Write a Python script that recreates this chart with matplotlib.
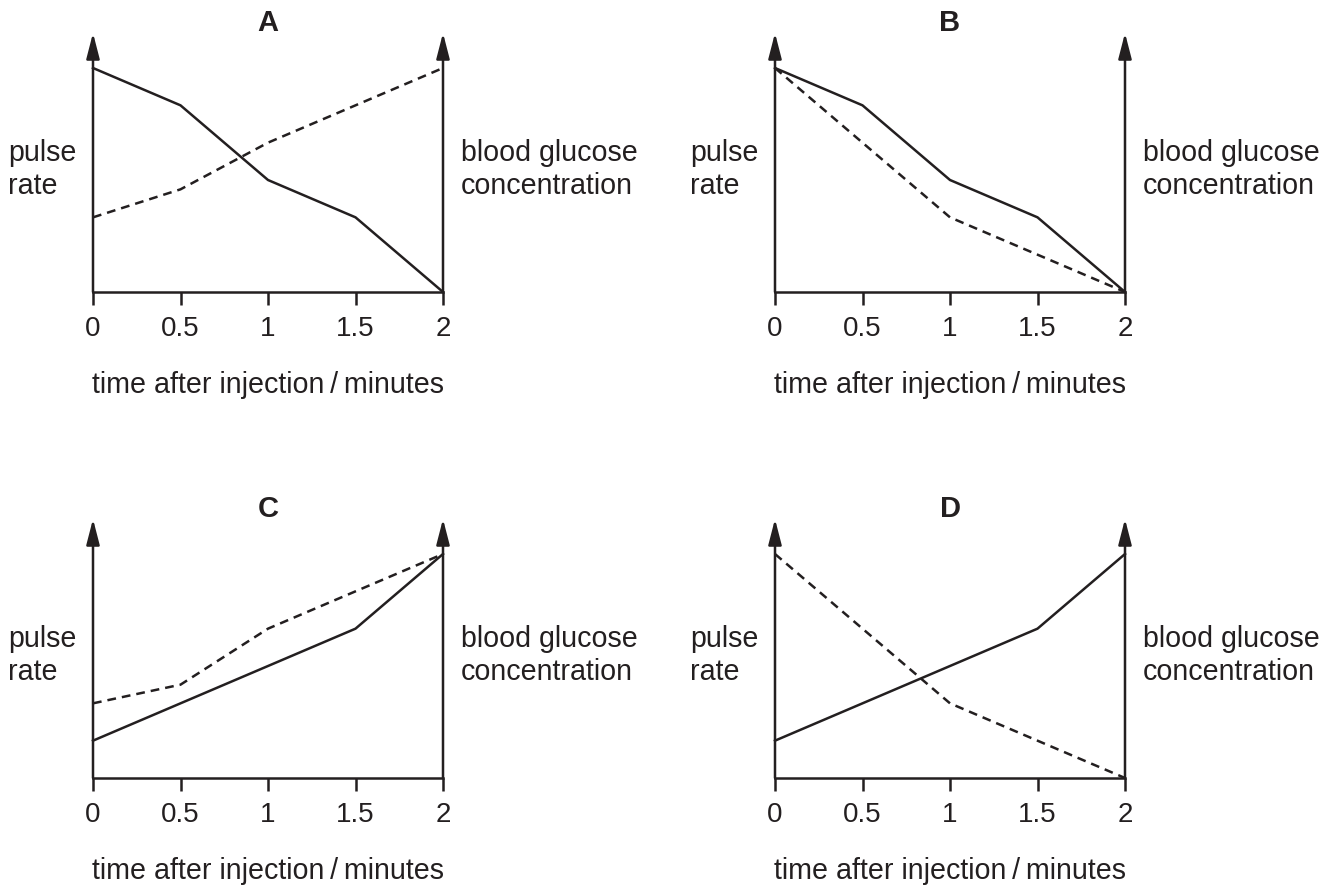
import matplotlib

matplotlib.use("Agg")
import matplotlib.pyplot as plt

# --- data ---
time_min = [0, 0.5, 1, 1.5, 2]
time_labels = ["0", "0.5", "1", "1.5", "2"]
panel_names = ["A", "B", "C", "D"]

solid_a = [6, 5, 3, 2, 0]
dashed_a = [2, 2.75, 4, 5, 6]
solid_b = [6, 5, 3, 2, 0]
dashed_b = [6, 4, 2, 1, 0]
solid_c = [1, 2, 3, 4, 6]
dashed_c = [2, 2.5, 4, 5, 6]
solid_d = [1, 2, 3, 4, 6]
dashed_d = [6, 4, 2, 1, 0]

# --- layout (pixels of the 1338x889 canvas) ---
W, H = 1338, 889
INK = "#231f20"
LW = 1.8
FS = 20.6        # labels
TICK_FS = 20
PX_PER_UNIT = 224 / 6
AXIS_H = 259          # bottom axis -> arrow tip
AXIS_W = 350
panel_origin = [(93, 292), (775, 292), (93, 778), (775, 778)]

plt.rcParams["font.family"] = ["Liberation Sans", "DejaVu Sans"]

fig = plt.figure(figsize=(W / 100, H / 100), dpi=100)
fig.patch.set_facecolor("white")


def ftext(x, y, s, size=FS, **kw):
    fig.text(x / W, 1 - y / H, s, color=INK, fontsize=size, va="baseline", **kw)


series = [(solid_a, dashed_a), (solid_b, dashed_b), (solid_c, dashed_c), (solid_d, dashed_d)]
ytop = AXIS_H / PX_PER_UNIT

for name, (x0, y0), (solid, dashed) in zip(panel_names, panel_origin, series):
    ax = fig.add_axes([x0 / W, 1 - y0 / H, AXIS_W / W, AXIS_H / H])
    ax.set_xlim(0, 2)
    ax.set_ylim(0, ytop)
    ax.patch.set_visible(False)
    for side in ["top", "left", "right"]:
        ax.spines[side].set_visible(False)
    ax.spines["bottom"].set_linewidth(LW)
    ax.spines["bottom"].set_color(INK)
    ax.set_yticks([])
    ax.set_xticks(time_min)
    ax.set_xticklabels(time_labels)
    ax.tick_params(axis="x", direction="out", length=9, width=LW, color=INK,
                   labelsize=TICK_FS, labelcolor=INK, pad=8)

    # vertical axes with arrow heads on both sides
    for xv in [0, 2]:
        ax.annotate("", xy=(xv, ytop), xytext=(xv, 0),
                    arrowprops=dict(arrowstyle="-|>,head_length=1.55,head_width=0.4",
                                    lw=LW, color=INK, shrinkA=0, shrinkB=0,
                                    mutation_scale=10),
                    annotation_clip=False)

    ax.plot(time_min, solid, color=INK, lw=LW, solid_joinstyle="miter", clip_on=False)
    ax.plot(time_min, dashed, color=INK, lw=LW, linestyle=(0, (3.5, 2.4)), clip_on=False)

    dy = y0 - 292
    ftext(x0 + AXIS_W / 2, 31 + dy, name, size=21, ha="center", fontweight="bold")
    ftext(8 + x0 - 93, 161 + dy, "pulse", ha="left")
    ftext(8 + x0 - 93, 194 + dy, "rate", ha="left")
    ftext(x0 + AXIS_W + 18, 161 + dy, "blood glucose", ha="left")
    ftext(x0 + AXIS_W + 18, 194 + dy, "concentration", ha="left")
    ftext(x0 + AXIS_W / 2, 393 + dy, "time after injection\u2009/\u2009minutes", ha="center")

fig.savefig("out.png", dpi=100)
